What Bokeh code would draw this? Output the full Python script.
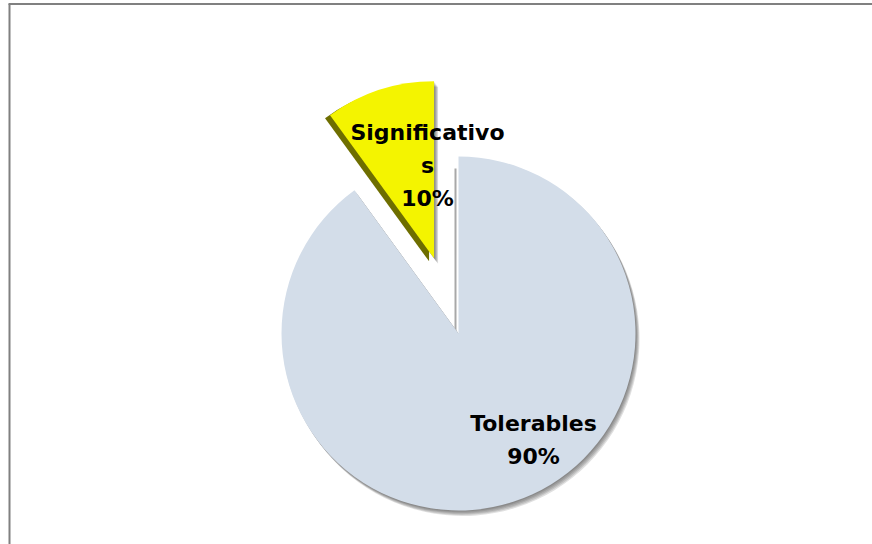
import math
from bokeh.plotting import figure
from bokeh.models import ColumnDataSource, Range1d
from bokeh.core.properties import value
from bokeh.embed import file_html
from bokeh.resources import INLINE

# ---- data ----
categories = ["Tolerables", "Significativos"]
percents = [90, 10]
label_lines = [["Tolerables", "90%"], ["Significativo", "s", "10%"]]

# ---- style / layout ----
W, H = 872, 544
colors = ["#d3dde9", "#f4f400"]
side_colors = [None, "#6e6e00"]
explode = [0, 79]
CX, CY, R = 458, 211, 177
label_anchor = [(533, 121), (427, 412)]  # baseline of first line
line_pitch = 33

p = figure(width=W, height=H, output_backend="svg", toolbar_location=None,
           x_range=Range1d(0, W), y_range=Range1d(0, H),
           min_border=0, margin=(0, 0, 0, 0))
p.axis.visible = False
p.grid.visible = False
p.outline_line_color = None
p.background_fill_color = "white"
p.border_fill_color = "white"

total = sum(percents)
start = math.pi / 2
wedges = []
for i, v in enumerate(percents):
    end = start - v / total * 2 * math.pi
    mid = (start + end) / 2
    cx = CX + explode[i] * math.cos(mid)
    cy = CY + explode[i] * math.sin(mid)
    wedges.append((cx, cy, start, end))
    start = end

# shadows
for i, (cx, cy, s, e) in enumerate(wedges):
    for k in range(1, 6):
        p.wedge(x=[cx + k * 0.8], y=[cy - k * 1.1], radius=R, start_angle=[s],
                end_angle=[e], direction="clock", fill_color="#303030",
                fill_alpha=0.15, line_color=None)

# 3D side of exploded slice
for i, (cx, cy, s, e) in enumerate(wedges):
    if side_colors[i]:
        p.wedge(x=[cx - 5], y=[cy - 3], radius=R, start_angle=[s],
                end_angle=[e], direction="clock", fill_color=side_colors[i],
                line_color=None)

# grey edge line in the gap
cx0, cy0, s0, e0 = wedges[0]
p.segment(x0=[cx0 - 3], y0=[cy0 + 2], x1=[cx0 - 3], y1=[cy0 + R - 12],
          line_color="#a8a8a8", line_width=2)

for i, (cx, cy, s, e) in enumerate(wedges):
    p.wedge(x=[cx], y=[cy], radius=R, start_angle=[s], end_angle=[e],
            direction="clock", fill_color=colors[i], line_color=None)

# labels
tx, ty, tt = [], [], []
for i, lines in enumerate(label_lines):
    ax, ay = label_anchor[i]
    for j, t in enumerate(lines):
        tx.append(ax)
        ty.append(ay - j * line_pitch)
        tt.append(t)
src = ColumnDataSource(dict(x=tx, y=ty, text=tt))
p.text(x="x", y="y", text="text", source=src, text_align="center",
       text_baseline="alphabetic", text_font=value("DejaVu Sans"),
       text_font_style="bold", text_font_size="22px", text_color="black")

# chart-area border (top and left visible)
p.segment(x0=[9, 8], y0=[0, H - 3.5], x1=[9, W], y1=[H - 3.5, H - 3.5],
          line_color="#808080", line_width=2)

open("out.html", "w").write(file_html(p, INLINE))
